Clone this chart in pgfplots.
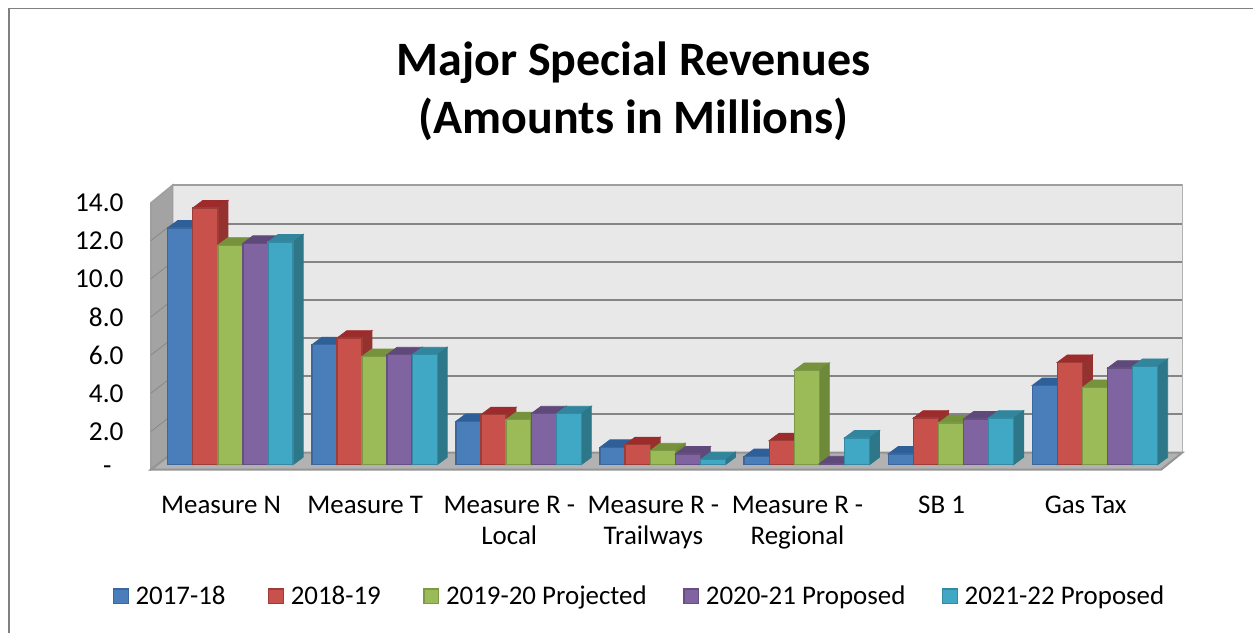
\documentclass[border=0pt]{standalone}
\usepackage{pgfplots}
\pgfplotsset{compat=1.18}
\usepackage{pgfplotstable}
\usepackage{fontspec}
\setmainfont{Carlito}

% series colours: face, top, side, edge
\definecolor{faceA}{HTML}{4A7EBB}\definecolor{topA}{HTML}{2F5F98}\definecolor{sideA}{HTML}{2F5F98}\definecolor{edgeA}{HTML}{3A679C}
\definecolor{faceB}{HTML}{C8524B}\definecolor{topB}{HTML}{9E2B2B}\definecolor{sideB}{HTML}{953230}\definecolor{edgeB}{HTML}{9E3C38}
\definecolor{faceC}{HTML}{9BBB59}\definecolor{topC}{HTML}{76923C}\definecolor{sideC}{HTML}{6C8A3A}\definecolor{edgeC}{HTML}{7C9A45}
\definecolor{faceD}{HTML}{8064A2}\definecolor{topD}{HTML}{5F497A}\definecolor{sideD}{HTML}{5F497A}\definecolor{edgeD}{HTML}{66507F}
\definecolor{faceE}{HTML}{40A8C4}\definecolor{topE}{HTML}{31859C}\definecolor{sideE}{HTML}{2E7789}\definecolor{edgeE}{HTML}{348AA2}

\pgfplotstableread{
idx s1    s2    s3    s4    s5
0   12.40 13.45 11.50 11.60 11.67
1   6.28  6.63  5.67  5.76  5.76
2   2.27  2.62  2.36  2.67  2.67
3   0.91  1.05  0.73  0.56  0.26
4   0.43  1.26  4.94  0.05  1.40
5   0.56  2.44  2.18  2.39  2.44
6   4.15  5.36  4.05  5.06  5.15
}\revenues

% bar geometry in data units
\def\barstep{0.17406}
\def\depthx{0.0693}
\def\depthy{0.39}

% one series: top and side faces of every bar, then the fronts as ybar
\newcommand\drawseries[3]{%
  \pgfmathsetmacro\off{(#1-3)*\barstep}%
  \pgfplotsforeachungrouped \r in {0,...,6}{%
    \pgfplotstablegetelem{\r}{s#1}\of\revenues
    \let\v\pgfplotsretval
    \pgfmathsetmacro\xa{\r+\off-\barstep/2}%
    \pgfmathsetmacro\xb{\r+\off+\barstep/2}%
    \pgfmathsetmacro\xc{\xa+\depthx}%
    \pgfmathsetmacro\xd{\xb+\depthx}%
    \pgfmathsetmacro\vb{\v+\depthy}%
    \edef\faces{%
      \noexpand\addplot[fill=top#2,draw=top#2,line width=.6pt,forget plot] coordinates {(\xa,\v) (\xb,\v) (\xd,\vb) (\xc,\vb)} -- cycle;
      \noexpand\addplot[fill=side#2,draw=side#2,line width=.6pt,forget plot] coordinates {(\xb,\v) (\xd,\vb) (\xd,\depthy) (\xb,0)} -- cycle;
    }\faces
  }%
  \edef\front{%
    \noexpand\addplot[ybar,bar width=18.8pt,bar shift=\off*108.15pt,fill=face#2,draw=edge#2,line width=1pt] table[x=idx,y=s#1]{\noexpand\revenues};
  }\front
  \addlegendentry{#3}%
}

\begin{document}
\begin{tikzpicture}
% page extent, with the frame lines along the top and left only
\path (0pt,0pt) rectangle (940.5pt,474.75pt);
\draw[draw=black!50,line width=1.3pt] (6.75pt,0pt) -- (6.75pt,468.3pt) -- (940.5pt,468.3pt);
\begin{axis}[
  at={(113.25pt,126pt)},anchor=south west,
  scale only axis,width=774pt,height=210pt,
  xmin=-0.552,xmax=6.605,ymin=0,ymax=14.66,
  clip=false,
  axis line style={draw=none},
  major tick length=0pt,
  tick style={draw=none},
  xtick={0,...,6},
  xticklabels={Measure N,Measure T,{Measure R -\\Local},{Measure R -\\Trailways},{Measure R -\\Regional},SB 1,Gas Tax},
  x tick label style={align=center,anchor=north,font=\fontsize{20.2}{23.2}\selectfont,yshift=-20pt,xshift=-7pt},
  ytick={0,2,...,14},
  yticklabels={-\hspace*{9pt},2.0,4.0,6.0,8.0,10.0,12.0,14.0},
  y tick label style={anchor=east,font=\fontsize{20.5}{24}\selectfont,xshift=-17pt,yshift=-3.9pt},
  legend columns=5,
  legend cell align=left,
  legend style={at={(0.5,0)},anchor=center,yshift=-98.7pt,xshift=-20pt,draw=none,fill=none,
    font=\fontsize{20.2}{24}\selectfont,
    /tikz/every even column/.append style={column sep=25.4pt}},
  legend image code/.code={\draw[#1,line width=1pt] (0pt,-5.5pt) rectangle (11pt,5.5pt);\path (14pt,0pt);},
]
% walls and floor of the chart box
\addplot[fill=black!9,draw=black!30,line width=1pt,forget plot] coordinates {(-0.4,0.63) (6.605,0.63) (6.605,14.66) (-0.4,14.66)} -- cycle;
\addplot[fill=black!36,draw=black!38,line width=1pt,forget plot] coordinates {(-0.552,-0.26) (-0.4,0.63) (-0.4,14.66) (-0.552,13.72)} -- cycle;
\addplot[fill=black!30,draw=black!42,line width=1.5pt,forget plot] coordinates {(-0.552,-0.26) (6.459,-0.26) (6.605,0.63) (-0.4,0.63)} -- cycle;
% gridlines on the back wall and their slant on the side wall
\pgfplotsinvokeforeach{2,4,6,8,10,12}{
  \addplot[draw=black!48,line width=1.5pt,forget plot] coordinates {(-0.4,#1+0.63) (6.605,#1+0.63)};
  \addplot[draw=black!48,line width=.5pt,forget plot] coordinates {(-0.552,#1-0.26) (-0.4,#1+0.63)};
}
\addplot[draw=black!38,line width=1.5pt,forget plot] coordinates {(-0.4,14.66) (6.605,14.66)};
\drawseries{1}{A}{2017-18\hspace*{4.5pt}}
\drawseries{2}{B}{2018-19\hspace*{4.5pt}}
\drawseries{3}{C}{2019-20 Projected}
\drawseries{4}{D}{2020-21 Proposed}
\drawseries{5}{E}{2021-22 Proposed}
\end{axis}
\node[align=center,font=\fontsize{36}{43.5}\selectfont\bfseries] at (475.5pt,406pt) {Major Special Revenues\\(Amounts in Millions)};
\end{tikzpicture}
\end{document}
